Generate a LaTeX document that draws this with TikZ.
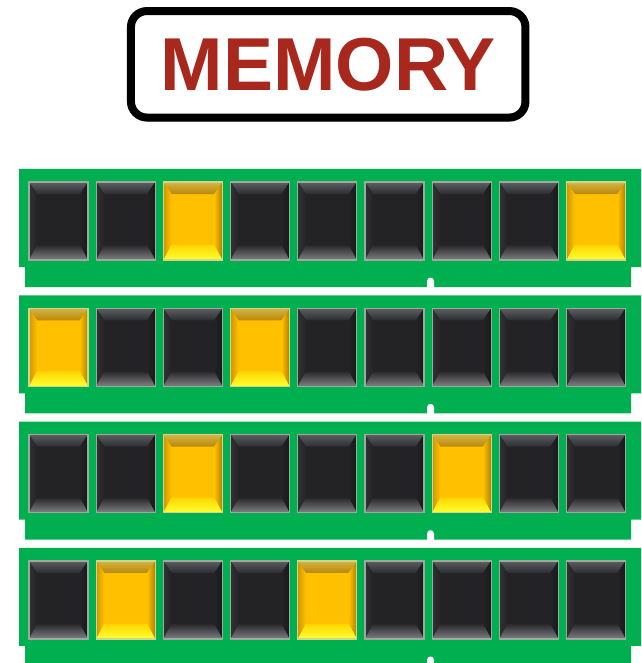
\documentclass[tikz,border=0pt]{standalone}
\usepackage{fontspec}
\newfontfamily\titlefont{Liberation Sans}
\usetikzlibrary{shadows}
\definecolor{board}{RGB}{0,176,80}
\definecolor{titlered}{RGB}{168,40,30}
\definecolor{dark1}{RGB}{92,94,98}
\definecolor{dark2}{RGB}{44,45,48}
\definecolor{dark3}{RGB}{50,50,53}
\definecolor{dark4}{RGB}{36,36,38}
\definecolor{dark5}{RGB}{35,35,37}
\definecolor{dark6}{RGB}{26,26,28}
\definecolor{dark7}{RGB}{35,35,37}
\definecolor{dark8}{RGB}{40,40,42}
\definecolor{dark9}{RGB}{128,128,132}
\definecolor{darkE}{RGB}{160,168,160}
\definecolor{yel1}{RGB}{214,180,68}
\definecolor{yel2}{RGB}{184,136,10}
\definecolor{yel3}{RGB}{210,150,0}
\definecolor{yel4}{RGB}{255,192,0}
\definecolor{yel5}{RGB}{255,192,0}
\definecolor{yel6}{RGB}{176,126,0}
\definecolor{yel7}{RGB}{255,192,0}
\definecolor{yel8}{RGB}{255,214,0}
\definecolor{yel9}{RGB}{255,255,50}
\definecolor{yelE}{RGB}{212,212,140}
\newcommand\drawchip[3]{%
  \begin{scope}[shift={(#1,#2)}]
    \fill[#37] (0,0) rectangle (59,78);
    \shade[top color=#31,bottom color=#32] (0,0) -- (59,0) -- (51,12) -- (8,12) -- cycle;
    \shade[left color=#33,right color=#34] (0,0) -- (8,12) -- (8,63) -- (0,78) -- cycle;
    \shade[left color=#35,right color=#36] (59,0) -- (51,12) -- (51,63) -- (59,78) -- cycle;
    \shade[top color=#38,bottom color=#39] (8,63) -- (51,63) -- (59,78) -- (0,78) -- cycle;
    \draw[#3E,line width=1.2pt] (0,0) rectangle (59,78);
  \end{scope}}
\tikzset{
  titlebox/.style={draw=black,fill=white,line width=8pt,rounded corners=16pt,
    minimum width=394.5pt,minimum height=106.5pt,inner sep=0pt,
    drop shadow={shadow xshift=0pt,shadow yshift=-4pt,opacity=0.35,fill=black!60},
    text=titlered,font=\titlefont\bfseries\fontsize{75}{80}\selectfont}
}
\begin{document}
\begin{tikzpicture}[x=1pt,y=-1pt]
\useasboundingbox (0,0) rectangle (641,663);
\clip (0,0) rectangle (641,663);
\fill[white] (0,0) rectangle (641,663);
\node[titlebox] (title) at (328.2,64.3) {MEMORY};
\foreach \T/\ya/\yb in {169/3/9, 295.3/1/4, 421.6/3/7, 547.9/2/5}{
  \fill[board] (19,\T) -- (645,\T) -- (645,\T+98) -- (631,\T+98) -- (631,\T+118)
     -- (25,\T+118) -- (25,\T+98) -- (19,\T+98) -- cycle;
  \fill[white] (427,\T+118.5) -- (427,\T+112) .. controls (427,\T+107.5) and (434,\T+107.5) .. (434,\T+112) -- (434,\T+118.5) -- cycle;
  \foreach \i in {1,...,9}{
    \pgfmathsetmacro\cx{29+67.2*(\i-1)}
    \pgfmathsetmacro\cy{\T+13}
    \def\kind{dark}
    \ifnum\i=\ya \def\kind{yel}\fi
    \ifnum\i=\yb \def\kind{yel}\fi
    \drawchip{\cx}{\cy}{\kind}
  }
}
\end{tikzpicture}
\end{document}
